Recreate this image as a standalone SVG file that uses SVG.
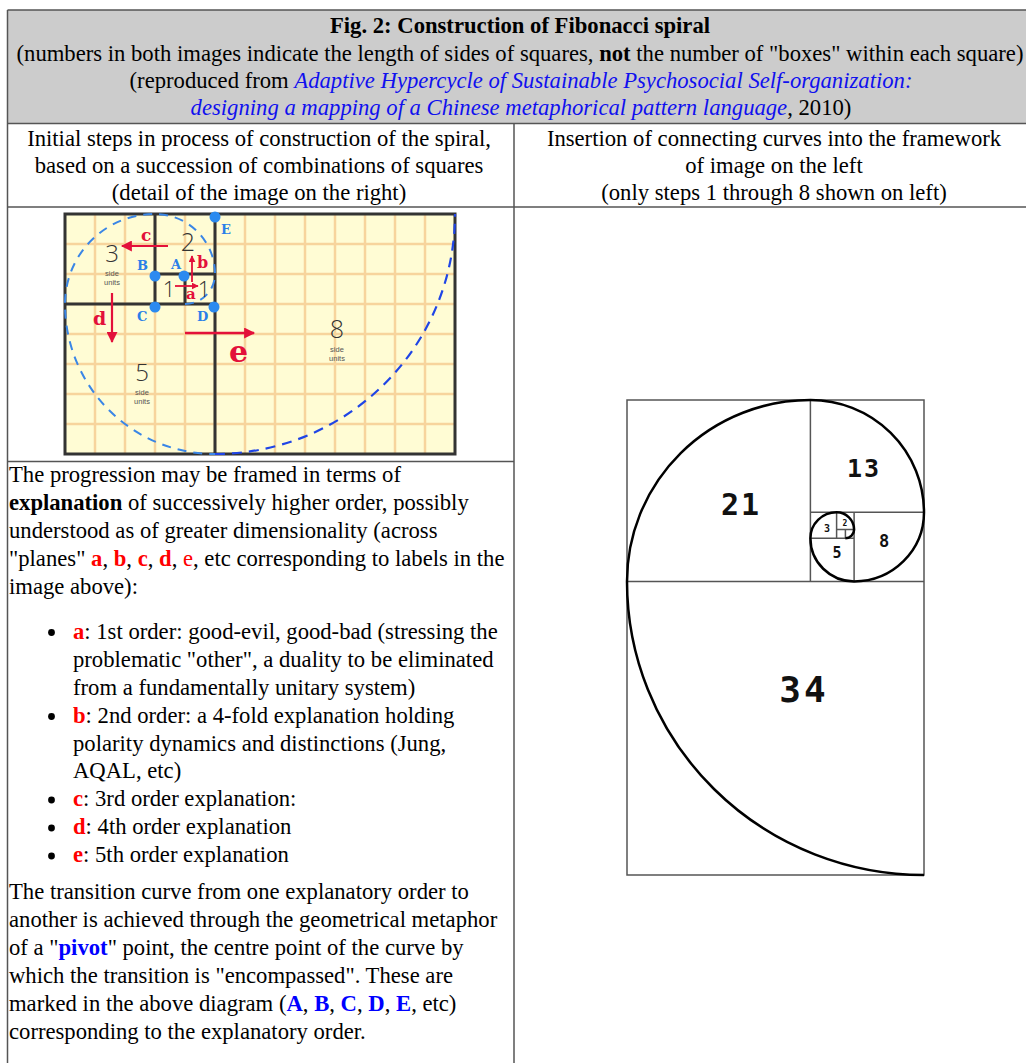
<svg xmlns="http://www.w3.org/2000/svg" width="1026" height="1063" viewBox="0 0 1026 1063">
<defs>
<style>
.t{font-family:"Liberation Serif","Times New Roman",serif;font-size:22.67px;fill:#000}
.c{text-anchor:middle}
.b{font-weight:bold}
.lnk{fill:#1010ee;font-style:italic}
.red{fill:#ff0000}
.blu{fill:#0000ff}
.bd{stroke:#555;stroke-width:1.5;fill:none}
.grid{stroke:#f7d49c;stroke-width:2.5;fill:none}
.frame{stroke:#333;stroke-width:3;fill:none}
.dash1{stroke:#3a86e6;stroke-width:2;fill:none;stroke-dasharray:9 7}
.dash2{stroke:#1f45e6;stroke-width:2.2;fill:none;stroke-dasharray:10 7}
.dot{fill:#2b8af0}
.pl{font-family:"DejaVu Serif",serif;font-weight:bold;font-size:13px;fill:#2a7fe8}
.rl{font-family:"DejaVu Serif",serif;font-weight:bold;fill:#e3103a}
.arr{stroke:#e3103a;fill:none}
.num{font-family:"Open Sans","Liberation Sans",sans-serif;font-weight:300;fill:#333;text-anchor:middle}
.su{font-family:"Liberation Sans",sans-serif;font-size:7.5px;fill:#555;text-anchor:middle}
.sq{stroke:#555;stroke-width:1.5;fill:none}
.sp{stroke:#000;stroke-width:2.5;fill:none}
.mono{font-family:"DejaVu Sans Mono",monospace;font-weight:bold;fill:#111;text-anchor:middle}
.bul{fill:#000}
</style>
<marker id="ahS" viewBox="0 0 10 10" refX="9" refY="5" markerWidth="7" markerHeight="7" markerUnits="userSpaceOnUse" orient="auto"><path d="M0,0 L10,5 L0,10 z" fill="#e3103a"/></marker>
<marker id="ahL" viewBox="0 0 10 10" refX="9" refY="5" markerWidth="12" markerHeight="11" markerUnits="userSpaceOnUse" orient="auto"><path d="M0,0 L10,5 L0,10 z" fill="#e3103a"/></marker>
</defs>
<rect width="1026" height="1063" fill="#fff"/>

<g id="table">
<rect x="7.5" y="10" width="1030" height="113.5" fill="#cccccc"/>
<line class="bd" x1="7.5" y1="10" x2="1026" y2="10"/>
<line class="bd" x1="7.5" y1="10" x2="7.5" y2="1063"/>
<line class="bd" x1="7.5" y1="123.5" x2="1026" y2="123.5"/>
<line class="bd" x1="7.5" y1="207" x2="1026" y2="207"/>
<line class="bd" x1="514" y1="123.5" x2="514" y2="1063"/>
<line class="bd" x1="7.5" y1="461.5" x2="514" y2="461.5"/>
</g>

<g id="header">
<text class="t c b" x="520" y="33">Fig. 2: Construction of Fibonacci spiral</text>
<text class="t c" x="520" y="61">(numbers in both images indicate the length of sides of squares, <tspan class="b">not</tspan> the number of "boxes" within each square)</text>
<text class="t c" x="521" y="88">(reproduced from <tspan class="lnk">Adaptive Hypercycle of Sustainable Psychosocial Self-organization:</tspan></text>
<text class="t c" x="521" y="115"><tspan class="lnk">designing a mapping of a Chinese metaphorical pattern language</tspan>, 2010)</text>
</g>

<g id="col-left-head">
<text class="t c" x="259" y="146">Initial steps in process of construction of the spiral,</text>
<text class="t c" x="259" y="173">based on a succession of combinations of squares</text>
<text class="t c" x="259" y="200">(detail of the image on the right)</text>
</g>
<g id="col-right-head">
<text class="t c" x="774" y="146">Insertion of connecting curves into the framework</text>
<text class="t c" x="774" y="173">of image on the left</text>
<text class="t c" x="774" y="200">(only steps 1 through 8 shown on left)</text>
</g>

<g id="left-image">
<rect x="65" y="214" width="390" height="240" fill="#fffcd4"/>
<path class="grid" d="M95,214V454M125,214V454M155,214V454M185,214V454M215,214V454M245,214V454M275,214V454M305,214V454M335,214V454M365,214V454M395,214V454M425,214V454M65,244H455M65,274H455M65,304H455M65,334H455M65,364H455M65,394H455M65,424H455"/>
<path class="frame" d="M215,214V454M65,304H215M155,214V304M155,274H215M185,274V304"/>
<rect class="frame" x="65" y="214" width="390" height="240"/>
<path class="dash1" d="M185,304 A30,30 0 0 0 215,274 A60,60 0 0 0 155,214 A90,90 0 0 0 65,304 A150,150 0 0 0 215,454"/>
<path class="dash2" d="M215,454 A240,240 0 0 0 455,214"/>
<g id="pivots">
<circle class="dot" cx="215" cy="217" r="5.5"/>
<circle class="dot" cx="155" cy="276" r="5.5"/>
<circle class="dot" cx="184" cy="276" r="5.5"/>
<circle class="dot" cx="155" cy="307" r="5.5" fill="#4aa0f2"/>
<circle class="dot" cx="214" cy="307" r="5.5"/>
<text class="pl" x="221" y="234">E</text>
<text class="pl" x="137" y="270">B</text>
<text class="pl" x="171" y="269">A</text>
<text class="pl" x="137" y="321">C</text>
<text class="pl" x="197" y="321">D</text>
</g>
<g id="numbers">
<text class="num" x="112" y="262" font-size="24">3</text>
<text class="su" x="112" y="276">side</text>
<text class="su" x="112" y="285">units</text>
<text class="num" x="188" y="251" font-size="25">2</text>
<text class="num" x="169" y="297" font-size="22">1</text>
<text class="num" x="204" y="297" font-size="22">1</text>
<text class="num" x="337" y="338" font-size="25">8</text>
<text class="su" x="337" y="352">side</text>
<text class="su" x="337" y="361">units</text>
<text class="num" x="142" y="381" font-size="24">5</text>
<text class="su" x="142" y="395">side</text>
<text class="su" x="142" y="404">units</text>
</g>
<g id="arrows">
<line class="arr" stroke-width="1.8" x1="175" y1="286" x2="198" y2="286" marker-end="url(#ahS)"/>
<line class="arr" stroke-width="1.8" x1="192" y1="282" x2="192" y2="256" marker-end="url(#ahS)"/>
<line class="arr" stroke-width="2.2" x1="168" y1="246" x2="122" y2="246" marker-end="url(#ahL)"/>
<line class="arr" stroke-width="2.2" x1="112" y1="293" x2="112" y2="342" marker-end="url(#ahL)"/>
<line class="arr" stroke-width="2.4" x1="185" y1="333" x2="254" y2="333" marker-end="url(#ahL)"/>
<text class="rl" x="186" y="299" font-size="15">a</text>
<text class="rl" x="197" y="268" font-size="16">b</text>
<text class="rl" x="141" y="241" font-size="17">c</text>
<text class="rl" x="93" y="325" font-size="19">d</text>
<text class="rl" x="229" y="362" font-size="30">e</text>
</g>
</g>

<g id="right-spiral">
<rect class="sq" x="627" y="400" width="297" height="475"/>
<path class="sq" d="M627,581.4H924M810.4,400V581.4M810.4,512.3H924M854.1,512.3V581.4M810.4,538.2H854.1M836.6,512.3V538.2M836.6,529.5H854.1M845.4,529.5V538.2"/>
<path class="sp" d="M924,875 A297,293.6 0 0 1 627,581.4 A183.4,181.4 0 0 1 810.4,400 A113.6,112.3 0 0 1 924,512.3 A69.9,69.1 0 0 1 854.1,581.4 A43.7,43.2 0 0 1 810.4,538.2 A26.2,25.9 0 0 1 836.6,512.3 A17.5,17.3 0 0 1 854.1,529.5 A8.7,8.6 0 0 1 845.4,538.2"/>
<text class="mono" x="741" y="515" font-size="30" letter-spacing="2">21</text>
<text class="mono" x="864" y="477" font-size="25" letter-spacing="2">13</text>
<text class="mono" x="884" y="547" font-size="17" font-weight="normal">8</text>
<text class="mono" x="837" y="558" font-size="15">5</text>
<text class="mono" x="827" y="532" font-size="10">3</text>
<text class="mono" x="845" y="526" font-size="8">2</text>
<text class="mono" x="804" y="702" font-size="36" letter-spacing="3">34</text>
</g>

<g id="left-text">
<text class="t" x="9" y="482">The progression may be framed in terms of</text>
<text class="t" x="9" y="510"><tspan class="b">explanation</tspan> of successively higher order, possibly</text>
<text class="t" x="9" y="538">understood as of greater dimensionality (across</text>
<text class="t" x="9" y="566">"planes" <tspan class="b red">a</tspan>, <tspan class="b red">b</tspan>, <tspan class="b red">c</tspan>, <tspan class="b red">d</tspan>, <tspan class="red">e</tspan>, etc corresponding to labels in the</text>
<text class="t" x="9" y="594">image above):</text>

<circle class="bul" cx="51.5" cy="632.5" r="3.4"/>
<text class="t" x="73" y="638.5"><tspan class="b red">a</tspan>: 1st order: good-evil, good-bad (stressing the</text>
<text class="t" x="73" y="666.5">problematic "other", a duality to be eliminated</text>
<text class="t" x="73" y="694.5">from a fundamentally unitary system)</text>
<circle class="bul" cx="51.5" cy="716.5" r="3.4"/>
<text class="t" x="73" y="722.5"><tspan class="b red">b</tspan>: 2nd order: a 4-fold explanation holding</text>
<text class="t" x="73" y="750.5">polarity dynamics and distinctions (Jung,</text>
<text class="t" x="73" y="778">AQAL, etc)</text>
<circle class="bul" cx="51.5" cy="800" r="3.4"/>
<text class="t" x="73" y="806"><tspan class="b red">c</tspan>: 3rd order explanation:</text>
<circle class="bul" cx="51.5" cy="828" r="3.4"/>
<text class="t" x="73" y="834"><tspan class="b red">d</tspan>: 4th order explanation</text>
<circle class="bul" cx="51.5" cy="856" r="3.4"/>
<text class="t" x="73" y="862"><tspan class="b red">e</tspan>: 5th order explanation</text>

<text class="t" x="9" y="899">The transition curve from one explanatory order to</text>
<text class="t" x="9" y="927">another is achieved through the geometrical metaphor</text>
<text class="t" x="9" y="955">of a "<tspan class="b blu">pivot</tspan>" point, the centre point of the curve by</text>
<text class="t" x="9" y="983">which the transition is "encompassed". These are</text>
<text class="t" x="9" y="1011">marked in the above diagram (<tspan class="b blu">A</tspan>, <tspan class="b blu">B</tspan>, <tspan class="b blu">C</tspan>, <tspan class="b blu">D</tspan>, <tspan class="b blu">E</tspan>, etc)</text>
<text class="t" x="9" y="1039">corresponding to the explanatory order.</text>
</g>
</svg>
